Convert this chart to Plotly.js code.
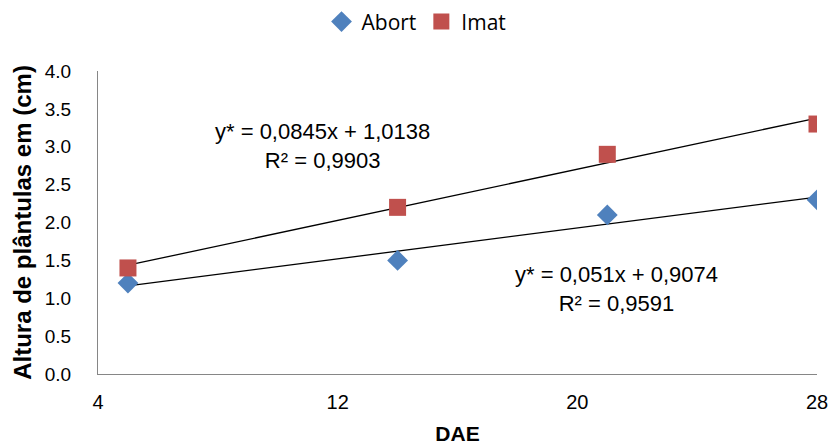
<!DOCTYPE html>
<html>
<head>
<meta charset="utf-8">
<script src="https://cdn.plot.ly/plotly-3.0.1.min.js"></script>
<style>html,body{margin:0;padding:0;background:#fff}#chart{width:830px;height:446px}</style>
</head>
<body>
<div id="chart"></div>
<script>
var dae = [5, 14, 21, 28];
var abort = [1.2, 1.5, 2.1, 2.3];
var imat = [1.4, 2.2, 2.9, 3.3];
var xTicks = [4, 12, 20, 28];
var yTicks = [0, 0.5, 1, 1.5, 2, 2.5, 3, 3.5, 4];
var eqImat = "y* = 0,0845x + 1,0138<br>R² = 0,9903";
var eqAbort = "y* = 0,051x + 0,9074<br>R² = 0,9591";

function fit(x, y) {
  var n = x.length, mx = 0, my = 0;
  for (var i = 0; i < n; i++) { mx += x[i]; my += y[i]; }
  mx /= n; my /= n;
  var sxy = 0, sxx = 0;
  for (var i = 0; i < n; i++) { sxy += (x[i]-mx)*(y[i]-my); sxx += (x[i]-mx)*(x[i]-mx); }
  var b = sxy / sxx, a = my - b*mx;
  var xs = [x[0], x[n-1]];
  return {x: xs, y: xs.map(function(v){return a + b*v;})};
}
var fA = fit(dae, abort), fI = fit(dae, imat);

var narrow = 'Liberation Sans Narrow, Arial Narrow, Liberation Sans, sans-serif';
var arial = 'Liberation Sans, Arial, sans-serif';

var data = [
  {x: fA.x, y: fA.y, mode: 'lines', line: {color: '#000', width: 1.3}, showlegend: false, hoverinfo: 'skip'},
  {x: fI.x, y: fI.y, mode: 'lines', line: {color: '#000', width: 1.3}, showlegend: false, hoverinfo: 'skip'},
  {x: dae, y: abort, name: 'Abort', mode: 'markers', type: 'scatter',
   marker: {symbol: 'diamond', size: 16, color: '#4F81BD', line: {width: 0}}},
  {x: dae, y: imat, name: 'Imat', mode: 'markers', type: 'scatter',
   marker: {symbol: 'square', size: 17, color: '#C0504D', line: {width: 0}}}
];

var layout = {
  width: 830, height: 446,
  margin: {l: 98, r: 13, t: 71, b: 72, autoexpand: false},
  paper_bgcolor: '#fff', plot_bgcolor: '#fff',
  showlegend: true,
  legend: {orientation: 'h', x: 0.443, xanchor: 'center', y: 1.162, yanchor: 'middle',
           font: {family: 'Open Sans, sans-serif', size: 21, color: '#000'}, itemwidth: 30, tracegroupgap: 0},
  xaxis: {range: [4, 28], tickvals: xTicks, ticktext: xTicks.map(String), showgrid: false, zeroline: false,
          showline: true, linecolor: '#868686', linewidth: 1, ticks: '', ticklabelstandoff: 10,
          tickfont: {family: narrow, size: 20, color: '#000'},
          title: {text: '<b>DAE</b>', font: {family: narrow, size: 21, color: '#000'}, standoff: 14}},
  yaxis: {range: [0, 4], tickvals: yTicks, ticktext: yTicks.map(function(v){return v.toFixed(1);}),
          showgrid: false, zeroline: false, showline: true, linecolor: '#868686', linewidth: 1, ticks: '',
          ticklabelstandoff: 22,
          tickfont: {family: narrow, size: 19, color: '#000'},
          title: {text: '<b>Altura de plântulas em (cm)</b>', font: {family: arial, size: 24, color: '#000'}, standoff: 6}},
  annotations: [
    {x: 11.48, y: 3.01, xref: 'x', yref: 'y', text: eqImat, showarrow: false,
     font: {family: arial, size: 22, color: '#000'}, align: 'center'},
    {x: 21.3, y: 1.12, xref: 'x', yref: 'y', text: eqAbort, showarrow: false,
     font: {family: arial, size: 22, color: '#000'}, align: 'center'}
  ]
};
Plotly.newPlot('chart', data, layout, {displayModeBar: false});
</script>
</body>
</html>
